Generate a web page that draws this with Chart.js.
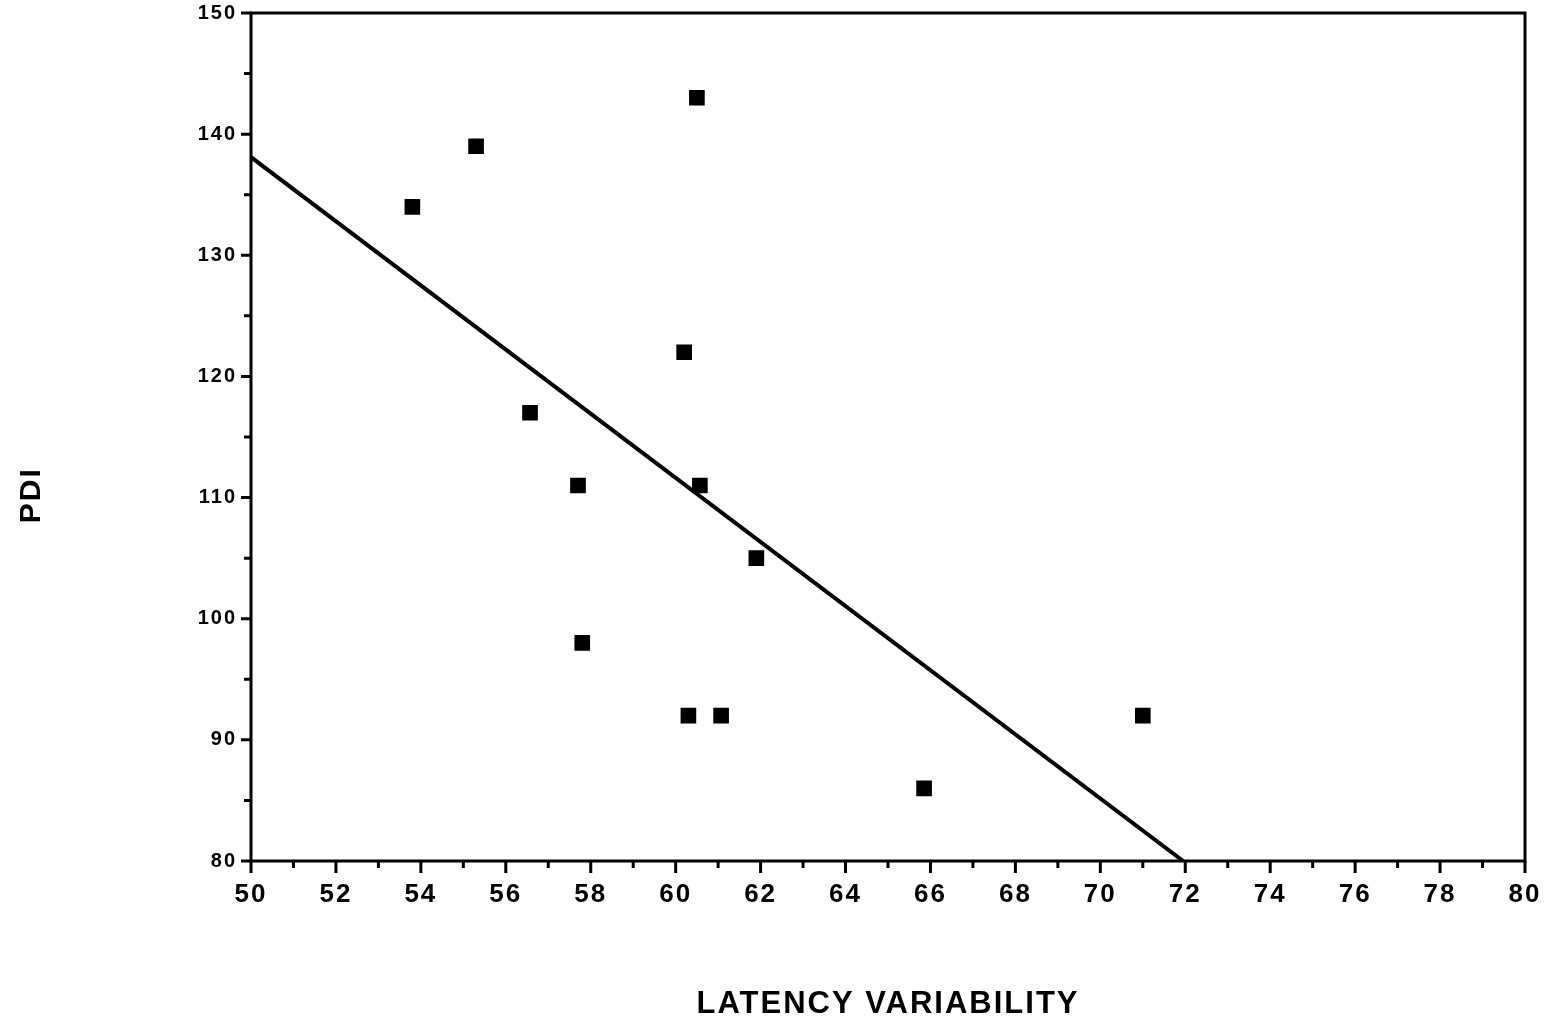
<!DOCTYPE html>
<html>
<head>
<meta charset="utf-8">
<script src="https://cdn.jsdelivr.net/npm/chart.js@4.4.1/dist/chart.umd.min.js"></script>
<style>
  html, body { margin: 0; padding: 0; background: #fff; }
  #wrap { width: 1545px; height: 1024px; }
</style>
</head>
<body>
<div id="wrap"><canvas id="c" width="1545" height="1024"></canvas></div>
<script>
const latency = [53.8, 55.3, 60.5, 60.2, 56.57, 57.7, 60.57, 61.9, 57.8, 60.3, 61.07, 71.0, 65.85];
const pdi     = [134, 139, 143, 122, 117, 111, 111, 105, 98, 92, 92, 92, 86];
const fitX = [50, 71.95];
const fitY = [138.1, 80];
const xTicks = [50, 52, 54, 56, 58, 60, 62, 64, 66, 68, 70, 72, 74, 76, 78, 80];
const yTicks = [80, 90, 100, 110, 120, 130, 140, 150];
const xTitle = 'LATENCY VARIABILITY';
const yTitle = 'PDI';

const FONT = '"Liberation Sans", Arial, Helvetica, sans-serif';

const spacingPlugin = {
  id: 'spacing',
  beforeLayout(chart) { chart.ctx.letterSpacing = '2px'; },
  beforeDraw(chart) { chart.ctx.letterSpacing = '2px'; }
};

const frameTicks = {
  id: 'frameTicks',
  afterDraw(chart) {
    const ctx = chart.ctx;
    const a = chart.chartArea;
    const xs = chart.scales.x, ys = chart.scales.y;
    ctx.save();
    ctx.strokeStyle = '#000';
    ctx.lineWidth = 3;
    ctx.strokeRect(a.left, a.top, a.right - a.left, a.bottom - a.top);
    ctx.beginPath();
    for (let v = xs.min; v <= xs.max; v += 1) {
      const px = xs.getPixelForValue(v);
      const len = (v % 2 === 0) ? 12 : 7;
      ctx.moveTo(px, a.bottom);
      ctx.lineTo(px, a.bottom + len);
    }
    for (let v = ys.min; v <= ys.max; v += 5) {
      const py = ys.getPixelForValue(v);
      const len = (v % 10 === 0) ? 10 : 7;
      ctx.moveTo(a.left, py);
      ctx.lineTo(a.left - len, py);
    }
    ctx.stroke();
    // vertical axis title
    ctx.letterSpacing = '2px';
    ctx.fillStyle = '#000';
    ctx.font = 'bold 30px ' + FONT;
    ctx.textAlign = 'center';
    ctx.textBaseline = 'middle';
    ctx.translate(32, ys.getPixelForValue(110.2));
    ctx.rotate(-Math.PI / 2);
    ctx.fillText(yTitle, 0, 0);
    ctx.restore();
  }
};

new Chart(document.getElementById('c'), {
  type: 'scatter',
  data: {
    datasets: [
      {
        type: 'scatter',
        data: latency.map((x, i) => ({ x: x, y: pdi[i] })),
        pointStyle: 'rect',
        pointRadius: 10,
        backgroundColor: '#000',
        borderColor: '#000',
        borderWidth: 1.5
      },
      {
        type: 'line',
        data: fitX.map((x, i) => ({ x: x, y: fitY[i] })),
        borderColor: '#000',
        borderWidth: 4,
        pointRadius: 0,
        fill: false
      }
    ]
  },
  options: {
    responsive: false,
    animation: false,
    events: [],
    layout: { padding: { left: 0, right: 20, top: 13, bottom: 0 } },
    plugins: { legend: { display: false }, tooltip: { enabled: false } },
    scales: {
      x: {
        type: 'linear',
        min: 50, max: 80,
        afterBuildTicks(scale) { scale.ticks = xTicks.map(v => ({ value: v })); },
        afterFit(scale) {
          scale.height = 163;
          scale.paddingLeft = 0; scale.paddingRight = 0;
          scale.paddingTop = 0; scale.paddingBottom = 0;
        },
        grid: { display: true, drawOnChartArea: false, drawTicks: false },
        border: { display: false },
        ticks: {
          color: '#000',
          padding: 18,
          maxRotation: 0,
          autoSkip: false,
          font: { family: FONT, size: 26, weight: 'bold' }
        },
        title: {
          display: true,
          text: xTitle,
          color: '#000',
          padding: { top: 2, bottom: 1 },
          font: { family: FONT, size: 31, weight: 'bold' }
        }
      },
      y: {
        type: 'linear',
        min: 80, max: 150,
        afterBuildTicks(scale) { scale.ticks = yTicks.map(v => ({ value: v })); },
        afterFit(scale) {
          scale.width = 251;
          scale.paddingLeft = 0; scale.paddingRight = 0;
          scale.paddingTop = 0; scale.paddingBottom = 0;
        },
        grid: { display: true, drawOnChartArea: false, drawTicks: false },
        border: { display: false },
        ticks: {
          color: '#000',
          padding: 14,
          autoSkip: false,
          font: { family: FONT, size: 20, weight: 'bold' }
        },
        title: { display: false }
      }
    }
  },
  plugins: [spacingPlugin, frameTicks]
});
</script>
</body>
</html>
